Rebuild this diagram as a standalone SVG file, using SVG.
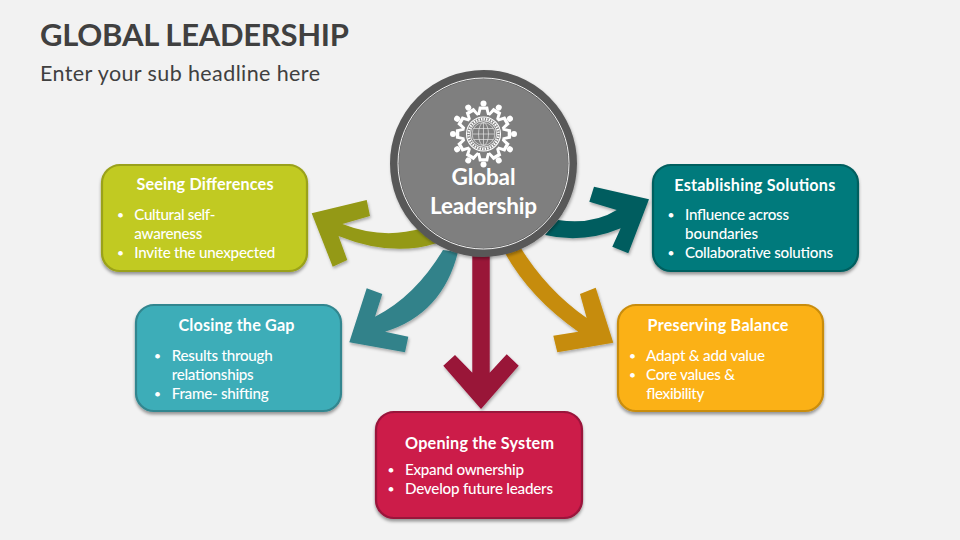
<svg xmlns="http://www.w3.org/2000/svg" width="960" height="540" viewBox="0 0 960 540">
<style>
text{font-family:Lato,"Liberation Sans",sans-serif;fill:#fff}
.h{font-size:16.2px;font-weight:700;text-anchor:middle}
.b{font-size:15.2px;font-weight:500}
.d{font-size:12px}
.box{stroke-width:2.2;filter:url(#sh)}
.ar{filter:url(#sh2)}
.w{fill:#fff}
</style>
<defs>
<filter id="sh" x="-10%" y="-10%" width="120%" height="125%"><feDropShadow dx="0" dy="2.5" stdDeviation="1.8" flood-color="#000" flood-opacity=".38"/></filter>
<filter id="sh2" x="-15%" y="-15%" width="130%" height="130%"><feDropShadow dx="1" dy="2" stdDeviation="1.5" flood-color="#000" flood-opacity=".3"/></filter>
<g id="p">
<circle cx="0" cy="-30.5" r="3" class="w"/>
<path class="w" d="M-4.6-27.6H4.6L6.3-19H3.6L2.2-24.2H-2.2L-3.6-19H-6.3Z"/>
</g>
</defs>
<rect width="960" height="540" fill="#f2f2f2"/>
<text x="40" y="46" font-size="31" font-weight="700" style="fill:#404040" textLength="309">GLOBAL LEADERSHIP</text>
<text x="40" y="81" font-size="21.5" style="fill:#404040" textLength="280">Enter your sub headline here</text>

<g id="connectors" class="ar">
<path fill="#949913" d="M311.7 213.3L366.7 200L370 216L342.3 224Q383 240 423 228L437 243Q392 257.5 338.5 236L347.3 260L332.7 266.7Z"/>
<path fill="#31828a" d="M349.3 342.3L366.7 288.3L382.3 294L375 316.7Q415 296.5 443 250L458 252Q442.5 314 385 331.7L408.3 336.7L405 352.3Z"/>
<path fill="#991237" d="M472.3 250H489.7V372.7L506.7 354.3L518.7 365.7L481 409L443.3 365.7L455 355L472.3 372.7Z"/>
<path fill="#c68c08" d="M505 253L520 246.7Q546.6 290 586.7 318L580 294L595.7 287.7L613.3 342.7L557.3 352.3L553.3 335.7L578.3 331.7Q530 298 505 253Z"/>
<path fill="#005d5e" d="M545 235L558 220Q593 225 616.7 210L589.3 201.7L594 186.7L649 199.3L628.3 253.3L612.3 246.7L620.7 228.3Q583 244 545 235Z"/>
</g>

<g id="node-seeing">
<rect class="box" x="102" y="165" width="205" height="106" rx="18" fill="#c1ca20" stroke="#9aa11a"/>
<text class="h" x="205" y="190" textLength="137">Seeing Differences</text>
<text class="b d" x="117" y="219">•</text><text class="b" x="134.3" y="220" textLength="81">Cultural self-</text>
<text class="b" x="134.3" y="239" textLength="68">awareness</text>
<text class="b d" x="117" y="257">•</text><text class="b" x="134.3" y="258" textLength="141">Invite the unexpected</text>
</g>
<g id="node-closing">
<rect class="box" x="136" y="305" width="205" height="106" rx="18" fill="#3eadb8" stroke="#31868f"/>
<text class="h" x="236.5" y="331" textLength="116">Closing the Gap</text>
<text class="b d" x="154" y="360">•</text><text class="b" x="171.7" y="361" textLength="101">Results through</text>
<text class="b" x="171.7" y="380" textLength="82">relationships</text>
<text class="b d" x="154" y="398">•</text><text class="b" x="171.7" y="399" textLength="97">Frame- shifting</text>
</g>
<g id="node-establishing">
<rect class="box" x="653" y="165" width="205" height="106" rx="18" fill="#007a7b" stroke="#005e5f"/>
<text class="h" x="754.8" y="190.5" textLength="161">Establishing Solutions</text>
<text class="b d" x="667.5" y="219">•</text><text class="b" x="685" y="220" textLength="104">Influence across</text>
<text class="b" x="685" y="239" textLength="73">boundaries</text>
<text class="b d" x="667.5" y="257">•</text><text class="b" x="685" y="258" textLength="148">Collaborative solutions</text>
</g>
<g id="node-preserving">
<rect class="box" x="618" y="305" width="205" height="106" rx="18" fill="#fbb116" stroke="#c98d10"/>
<text class="h" x="718" y="331" textLength="141">Preserving Balance</text>
<text class="b d" x="629" y="360">•</text><text class="b" x="646" y="361" textLength="119">Adapt &amp; add value</text>
<text class="b d" x="629" y="379">•</text><text class="b" x="646" y="380" textLength="89">Core values &amp;</text>
<text class="b" x="646" y="399" textLength="58">flexibility</text>
</g>
<g id="node-opening">
<rect class="box" x="376" y="412" width="206" height="106" rx="18" fill="#cc1a4a" stroke="#99133a"/>
<text class="h" x="479.5" y="449" textLength="149">Opening the System</text>
<text class="b d" x="387.5" y="474">•</text><text class="b" x="405" y="475" textLength="119">Expand ownership</text>
<text class="b d" x="387.5" y="493">•</text><text class="b" x="405" y="494" textLength="148">Develop future leaders</text>
</g>

<g id="node-center">
<circle cx="483.5" cy="163.5" r="89" fill="#7f7f7f" stroke="#595959" stroke-width="9" filter="url(#sh2)"/>
<circle cx="483.5" cy="163.5" r="85.5" fill="none" stroke="#f2f2f2" stroke-width="1"/>
<g id="icon" transform="translate(483.5 134)">
<use href="#p"/>
<use href="#p" transform="rotate(30)"/><use href="#p" transform="rotate(60)"/>
<use href="#p" transform="rotate(90)"/><use href="#p" transform="rotate(120)"/>
<use href="#p" transform="rotate(150)"/><use href="#p" transform="rotate(180)"/>
<use href="#p" transform="rotate(210)"/><use href="#p" transform="rotate(240)"/>
<use href="#p" transform="rotate(270)"/><use href="#p" transform="rotate(300)"/>
<use href="#p" transform="rotate(330)"/>
<circle r="17" fill="none" stroke="#fff" stroke-width="1.1"/>
<circle r="15" fill="none" stroke="#fff" stroke-width="2.4" stroke-dasharray="1.5 1.1"/>
<circle r="13.2" fill="none" stroke="#fff" stroke-width=".8"/>
<g fill="none" stroke="#e4e4e4" stroke-width=".7">
<circle r="11.4"/><ellipse rx="5" ry="11.4"/><path d="M0-11.4V11.4M-11.4 0H11.4M-10-5.5H10M-10 5.5H10"/>
</g>
</g>
<text x="483.5" y="184.5" font-size="22.5" font-weight="700" text-anchor="middle" textLength="64">Global</text>
<text x="483.5" y="213.5" font-size="22.5" font-weight="700" text-anchor="middle" textLength="107">Leadership</text>
</g>
</svg>
